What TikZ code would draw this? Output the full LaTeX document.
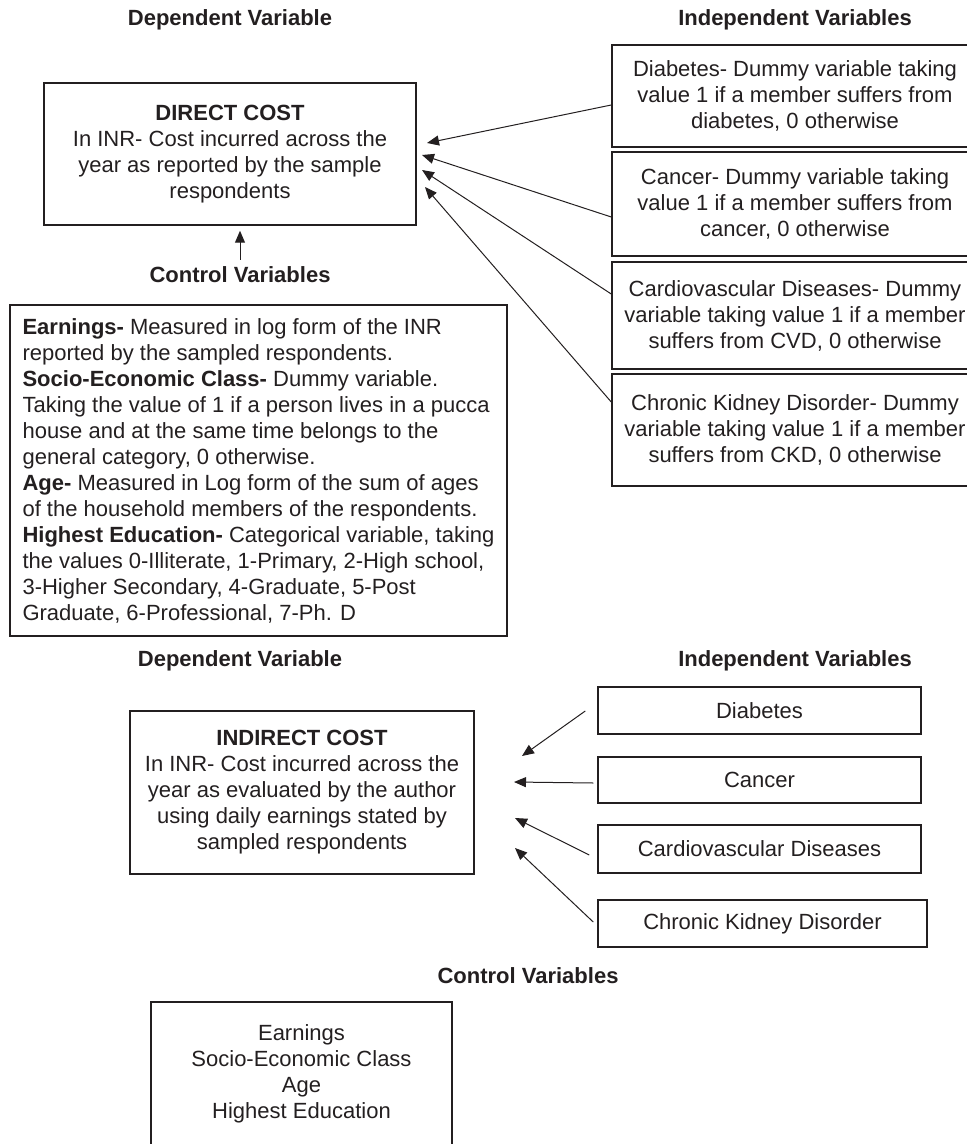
\documentclass[tikz,border=0pt]{standalone}
\usepackage{fontspec}
\setmainfont{Liberation Sans}
\usetikzlibrary{arrows.meta,calc}
\definecolor{ink}{RGB}{35,31,32}

\begin{document}
\begin{tikzpicture}[x=0.5pt, y=-0.5pt, >={Triangle[length=6pt,width=5pt]},
  font=\fontsize{11}{13}\selectfont, color=ink,
  box/.style={draw=ink, line width=0.75pt, align=center, inner sep=0pt},
  head/.style={font=\fontsize{11}{13}\selectfont\bfseries},
  link/.style={->, line width=0.5pt}]
  \clip (0,0) rectangle (967,1144);

  % Direct cost model
  \node[head] (dep1) at (230,20) {Dependent Variable};
  \node[head] (ind1) at (795,20) {Independent Variables};

  \node[box, minimum width=186pt, minimum height=71pt] (direct) at (230,154)
    {\textbf{DIRECT COST}\\In INR- Cost incurred across the\\year as reported by the sample\\respondents};

  \node[box, minimum width=183pt, minimum height=51pt] (dia) at (795,96)
    {Diabetes- Dummy variable taking\\value 1 if a member suffers from\\diabetes, 0 otherwise};
  \node[box, minimum width=183pt, minimum height=52pt] (can) at (795,204)
    {Cancer- Dummy variable taking\\value 1 if a member suffers from\\cancer, 0 otherwise};
  \node[box, minimum width=183pt, minimum height=53.5pt] (cvd) at (795,315.5)
    {Cardiovascular Diseases- Dummy\\variable taking value 1 if a member\\suffers from CVD, 0 otherwise};
  \node[box, minimum width=183pt, minimum height=56pt] (ckd) at (795,430)
    {Chronic Kidney Disorder- Dummy\\variable taking value 1 if a member\\suffers from CKD, 0 otherwise};

  \coordinate (diatip) at (427,143);
  \coordinate (cantip) at (422,155);
  \coordinate (cvdtip) at (422,170);
  \coordinate (ckdtip) at (425,187);
  \draw[link] ($(dia.west)+(0,9)$) -- (diatip);
  \draw[link] ($(can.west)+(0,13)$) -- (cantip);
  \draw[link] ($(cvd.west)+(0,-21.5)$) -- (cvdtip);
  \draw[link] ($(ckd.west)+(0,-28)$) -- (ckdtip);

  \node[head] (ctrl1) at (240,275) {Control Variables};
  \draw[link, shorten >=2.5pt] (ctrl1.north) -- (ctrl1.north |- direct.south);

  \node[box, align=left, minimum width=248.5pt, minimum height=165.5pt] (ctrlbox1) at (258.5,470.5)
    {\textbf{Earnings-} Measured in log form of the INR\\
     reported by the sampled respondents.\\
     \textbf{Socio-Economic Class-} Dummy variable.\\
     Taking the value of 1 if a person lives in a pucca\\
     house and at the same time belongs to the\\
     general category, 0 otherwise.\\
     \textbf{Age-} Measured in Log form of the sum of ages\\
     of the household members of the respondents.\\
     \textbf{Highest Education-} Categorical variable, taking\\
     the values 0-Illiterate, 1-Primary, 2-High school,\\
     3-Higher Secondary, 4-Graduate, 5-Post\\
     Graduate, 6-Professional, 7-Ph. D};

  % Indirect cost model
  \node[head] (dep2) at (240,661) {Dependent Variable};
  \node[head] (ind2) at (795,661) {Independent Variables};

  \node[box, minimum width=172pt, minimum height=81.5pt] (indirect) at (302,792.5)
    {\textbf{INDIRECT COST}\\In INR- Cost incurred across the\\year as evaluated by the author\\using daily earnings stated by\\sampled respondents};

  \node[box, minimum width=161.5pt, minimum height=23.5pt] (dia2) at (759.5,710.5) {Diabetes};
  \node[box, minimum width=161.5pt, minimum height=23pt] (can2) at (759.5,780) {Cancer};
  \node[box, minimum width=161.5pt, minimum height=24pt] (cvd2) at (759.5,849) {Cardiovascular Diseases};
  \node[box, minimum width=164.5pt, minimum height=23.5pt] (ckd2) at (762.5,923.5) {Chronic Kidney Disorder};

  \coordinate (dia2tip) at (522,756);
  \coordinate (can2tip) at (514,782);
  \coordinate (cvd2tip) at (515,818);
  \coordinate (ckd2tip) at (515,848);
  \draw[link] ($(dia2.west)+(-12,0.5)$) -- (dia2tip);
  \draw[link] ($(can2.west)+(-4,3)$) -- (can2tip);
  \draw[link] ($(cvd2.west)+(-8,6)$) -- (cvd2tip);
  \draw[link] ($(ckd2.west)+(-4,-1.5)$) -- (ckd2tip);

  \node[head] (ctrl2) at (528,976) {Control Variables};
  \node[box, minimum width=150.5pt, minimum height=72pt] (ctrlbox2) at (301.5,1074)
    {Earnings\\Socio-Economic Class\\Age\\Highest Education};
\end{tikzpicture}
\end{document}
